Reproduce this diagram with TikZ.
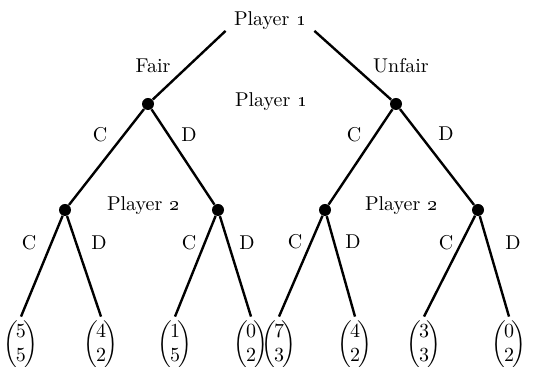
\documentclass[tikz,border=0pt]{standalone}
\usepackage{amsmath}
\newcommand{\payvec}[2]{$\left(\mkern-2mu\begin{matrix}#1\\#2\end{matrix}\mkern-2mu\right)$}
\tikzset{
  move/.style={circle,fill,inner sep=0pt,minimum size=6pt},
  payoff/.style={inner sep=2pt},
  branch/.style={line width=1.2pt},
}
\begin{document}
\begin{tikzpicture}[x=0.5pt,y=-0.5pt]
  \useasboundingbox (0,0) rectangle (536,367);
  % decision points
  \node[inner xsep=4pt,inner ysep=0.5pt] (root) at (270,20.5) {Player \oldstylenums{1}};
  \node[move] (f) at (148,104) {};
  \node[move] (u) at (396,104) {};
  \node[move] (fc) at (65,210) {};
  \node[move] (fd) at (218,210) {};
  \node[move] (uc) at (325,210) {};
  \node[move] (ud) at (478,210) {};
  % payoffs
  \node[payoff] (fcc) at (21,345) {\payvec{5}{5}};
  \node[payoff] (fcd) at (101,345) {\payvec{4}{2}};
  \node[payoff] (fdc) at (175,345) {\payvec{1}{5}};
  \node[payoff] (fdd) at (251,345) {\payvec{0}{2}};
  \node[payoff] (ucc) at (279,345) {\payvec{7}{3}};
  \node[payoff] (ucd) at (355,345) {\payvec{4}{2}};
  \node[payoff] (udc) at (424,345) {\payvec{3}{3}};
  \node[payoff] (udd) at (509,345) {\payvec{0}{2}};
  % labels
  \node (fair) at (153,66) {Fair};
  \node (unfair) at (401,66) {Unfair};
  \node (pone) at (271,101.5) {Player \oldstylenums{1}};
  \node (ptwoa) at (143,205.5) {Player \oldstylenums{2}};
  \node (ptwob) at (401,205.5) {Player \oldstylenums{2}};
  \node (c1) at (100,135) {C};
  \node (d1) at (189,135) {D};
  \node (c2) at (354,135) {C};
  \node (d2) at (446,134) {D};
  \node (c3) at (29,243) {C};
  \node (d3) at (99,243) {D};
  \node (c4) at (189,243) {C};
  \node (d4) at (247,243) {D};
  \node (c5) at (295,242) {C};
  \node (d5) at (353,242) {D};
  \node (c6) at (446,243) {C};
  \node (d6) at (513,243) {D};
  \begin{scope}[branch]
    \draw (root.south west) to (f);
    \draw (root.south east) to (u);
    \draw (f) to (fc);
    \draw (f) to (fd);
    \draw (u) to (uc);
    \draw (u) to (ud);
    \draw (fc) to (fcc.north);
    \draw (fc) to (fcd.north);
    \draw (fd) to (fdc.north);
    \draw (fd) to (fdd.north);
    \draw (uc) to (ucc.north);
    \draw (uc) to (ucd.north);
    \draw (ud) to (udc.north);
    \draw (ud) to (udd.north);
  \end{scope}
\end{tikzpicture}
\end{document}
